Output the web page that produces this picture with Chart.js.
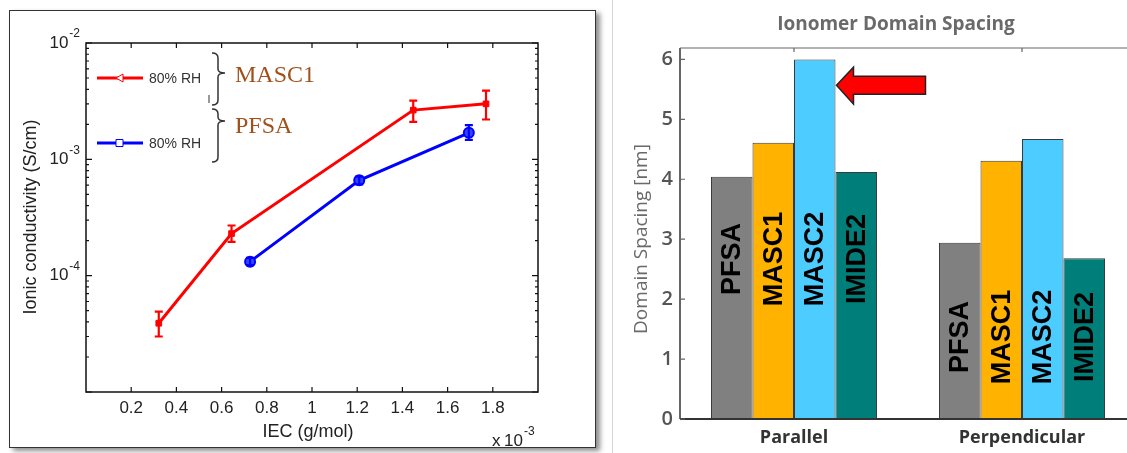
<!DOCTYPE html>
<html>
<head>
<meta charset="utf-8">
<script src="https://cdn.jsdelivr.net/npm/chart.js@4"></script>
<style>
  html, body { margin: 0; padding: 0; background: #fff; }
  #page { position: relative; width: 1127px; height: 453px; overflow: hidden; background: #fff; }
  #frame { position: absolute; left: 9px; top: 10px; width: 585px; height: 436px;
           border: 1.5px solid #333; box-shadow: 4px 3px 5px rgba(0,0,0,0.45); background: #fff; }
  #sep { position: absolute; left: 612px; top: 0; width: 1px; height: 453px; background: #d4d4d4; }
  #leftBox { position: absolute; left: 0; top: 0; width: 600px; height: 453px; }
  #rightBox { position: absolute; left: 612px; top: 0; width: 530px; height: 453px; }
</style>
</head>
<body>
<div id="page">
  <div id="frame"></div>
  <div id="sep"></div>
  <div id="leftBox"><canvas id="condChart"></canvas></div>
  <div id="rightBox"><canvas id="spacingChart"></canvas></div>
</div>
<script>
// ---- left chart data: ionic conductivity vs IEC (x 10^-3) ----
const iecMasc1 = [0.322, 0.644, 1.448, 1.77];
const sigmaMasc1 = [3.9e-5, 2.3e-4, 2.65e-3, 3.0e-3];
const errLoMasc1 = [3.0e-5, 1.95e-4, 2.1e-3, 2.2e-3];
const errHiMasc1 = [4.9e-5, 2.7e-4, 3.2e-3, 3.9e-3];

const iecPfsa = [0.726, 1.209, 1.694];
const sigmaPfsa = [1.32e-4, 6.6e-4, 1.69e-3];
const errLoPfsa = [1.23e-4, 6.1e-4, 1.47e-3];
const errHiPfsa = [1.42e-4, 7.1e-4, 1.97e-3];

const xTicks = [0.2, 0.4, 0.6, 0.8, 1, 1.2, 1.4, 1.6, 1.8];
const yDecades = [-5, -4, -3, -2];
const legendLabels = ['80% RH', '80% RH'];
const groupNames = ['MASC1', 'PFSA'];

// ---- right chart data: ionomer domain spacing ----
const orientations = ['Parallel', 'Perpendicular'];
const materials = ['PFSA', 'MASC1', 'MASC2', 'IMIDE2'];
const spacingParallel = [4.04, 4.61, 6.0, 4.12];
const spacingPerpendicular = [2.94, 4.31, 4.67, 2.68];
const spacingTicks = [0, 1, 2, 3, 4, 5, 6];
const barColors = ['#808080', '#FFB300', '#4DCCFF', '#007F7A'];

const sans = '"Liberation Sans", Arial, sans-serif';
const myriad = '"Open Sans", "Noto Sans", sans-serif';

function toPoints(xs, ys) {
  return xs.map((x, i) => ({ x: x, y: ys[i] }));
}

// draws "10" with a superscript exponent
function drawPow(ctx, x, y, exp, align) {
  const base = '10';
  ctx.font = '12px ' + sans;
  const ew = ctx.measureText(exp).width;
  ctx.font = '17px ' + sans;
  const bw = ctx.measureText(base).width;
  let start = x;
  if (align === 'right') start = x - bw - ew;
  ctx.textAlign = 'left';
  ctx.textBaseline = 'middle';
  ctx.fillText(base, start, y);
  ctx.font = '12px ' + sans;
  ctx.fillText(exp, start + bw + 1, y - 9);
}

const condPlugin = {
  id: 'condPlugin',
  afterDatasetsDraw(chart) {
    const ctx = chart.ctx;
    const xs = chart.scales.x, ys = chart.scales.y;
    const a = chart.chartArea;
    ctx.save();

    // error bars
    const errSets = [
      { xs: iecMasc1, lo: errLoMasc1, hi: errHiMasc1, color: '#ff0000' },
      { xs: iecPfsa, lo: errLoPfsa, hi: errHiPfsa, color: '#0000ff' }
    ];
    errSets.forEach(s => {
      ctx.strokeStyle = s.color;
      ctx.lineWidth = 2.2;
      s.xs.forEach((v, i) => {
        const px = xs.getPixelForValue(v);
        const y1 = ys.getPixelForValue(s.lo[i]);
        const y2 = ys.getPixelForValue(s.hi[i]);
        ctx.beginPath();
        ctx.moveTo(px, y1); ctx.lineTo(px, y2);
        ctx.moveTo(px - 4, y1); ctx.lineTo(px + 4, y1);
        ctx.moveTo(px - 4, y2); ctx.lineTo(px + 4, y2);
        ctx.stroke();
      });
    });

    // box
    ctx.strokeStyle = '#111';
    ctx.lineWidth = 1.5;
    ctx.strokeRect(a.left, a.top, a.right - a.left, a.bottom - a.top);

    // inward ticks
    ctx.lineWidth = 1.2;
    ctx.beginPath();
    xTicks.forEach(v => {
      const px = xs.getPixelForValue(v);
      ctx.moveTo(px, a.bottom); ctx.lineTo(px, a.bottom - 5);
      ctx.moveTo(px, a.top); ctx.lineTo(px, a.top + 5);
    });
    yDecades.forEach((d, k) => {
      const py = ys.getPixelForValue(Math.pow(10, d));
      ctx.moveTo(a.left, py); ctx.lineTo(a.left + 6, py);
      ctx.moveTo(a.right, py); ctx.lineTo(a.right - 6, py);
      if (k < yDecades.length - 1) {
        for (let m = 2; m < 10; m++) {
          const pm = ys.getPixelForValue(m * Math.pow(10, d));
          ctx.moveTo(a.left, pm); ctx.lineTo(a.left + 3, pm);
          ctx.moveTo(a.right, pm); ctx.lineTo(a.right - 3, pm);
        }
      }
    });
    ctx.stroke();

    // tick labels
    ctx.fillStyle = '#222';
    ctx.font = '17px ' + sans;
    ctx.textAlign = 'center';
    ctx.textBaseline = 'middle';
    xTicks.forEach(v => {
      ctx.fillText(String(v), xs.getPixelForValue(v), a.bottom + 16);
    });
    yDecades.slice(1).forEach(d => {
      drawPow(ctx, 79, ys.getPixelForValue(Math.pow(10, d)), String(d), 'right');
    });

    // axis titles
    ctx.font = '18px ' + sans;
    ctx.textAlign = 'center';
    ctx.fillText('IEC (g/mol)', 308, 432);
    ctx.save();
    ctx.translate(31, 217);
    ctx.rotate(-Math.PI / 2);
    ctx.fillText('Ionic conductivity (S/cm)', 0, 0);
    ctx.restore();
    ctx.font = '17px ' + sans;
    ctx.textAlign = 'left';
    ctx.fillText('x', 492, 441);
    drawPow(ctx, 504, 441, '-3', 'left');

    // legend
    const rows = [
      { y: 78, color: '#ff0000', shape: 'tri' },
      { y: 143, color: '#0000ff', shape: 'sq' }
    ];
    rows.forEach((r, i) => {
      ctx.strokeStyle = r.color;
      ctx.lineWidth = 2.8;
      ctx.beginPath();
      ctx.moveTo(97, r.y); ctx.lineTo(143, r.y);
      ctx.stroke();
      ctx.lineWidth = 1;
      ctx.fillStyle = '#fff';
      ctx.beginPath();
      if (r.shape === 'tri') {
        ctx.moveTo(116, r.y); ctx.lineTo(123, r.y - 4); ctx.lineTo(123, r.y + 4); ctx.closePath();
      } else {
        ctx.rect(116, r.y - 3.5, 7, 7);
      }
      ctx.fill(); ctx.stroke();
      ctx.fillStyle = '#333';
      ctx.font = '14px ' + sans;
      ctx.textAlign = 'left';
      ctx.textBaseline = 'middle';
      ctx.fillText(legendLabels[i], 149, r.y + 1);
    });

    // braces
    ctx.strokeStyle = '#333';
    ctx.lineWidth = 1.5;
    [[53, 73, 105], [109, 121, 162]].forEach(b => {
      const [t, m, btm] = b;
      ctx.beginPath();
      ctx.moveTo(212, t);
      ctx.quadraticCurveTo(218, t, 218, t + 5);
      ctx.lineTo(218, m - 4);
      ctx.quadraticCurveTo(218, m, 225, m);
      ctx.quadraticCurveTo(218, m, 218, m + 4);
      ctx.lineTo(218, btm - 5);
      ctx.quadraticCurveTo(218, btm, 212, btm);
      ctx.stroke();
    });
    ctx.lineWidth = 1;
    ctx.beginPath();
    ctx.moveTo(209, 95); ctx.lineTo(209, 103);
    ctx.stroke();

    ctx.fillStyle = '#A0501A';
    ctx.font = '24px "Liberation Serif", "Times New Roman", serif';
    ctx.textAlign = 'left';
    ctx.textBaseline = 'alphabetic';
    ctx.fillText(groupNames[0], 235, 82);
    ctx.fillText(groupNames[1], 235, 133);

    ctx.restore();
  }
};

new Chart(document.getElementById('condChart'), {
  type: 'scatter',
  data: {
    datasets: [
      {
        label: 'MASC1 80% RH',
        data: toPoints(iecMasc1, sigmaMasc1),
        showLine: true,
        borderColor: '#ff0000',
        backgroundColor: '#ff0000',
        borderWidth: 3,
        pointStyle: 'rect',
        pointRadius: 4,
        pointBorderWidth: 1
      },
      {
        label: 'PFSA 80% RH',
        data: toPoints(iecPfsa, sigmaPfsa),
        showLine: true,
        borderColor: '#0000ff',
        backgroundColor: '#3344ff',
        borderWidth: 3,
        pointStyle: 'circle',
        pointRadius: 5,
        pointBorderWidth: 2
      }
    ]
  },
  options: {
    responsive: true,
    maintainAspectRatio: false,
    animation: false,
    layout: { padding: { left: 86, top: 43, right: 62, bottom: 61 } },
    plugins: { legend: { display: false }, tooltip: { enabled: false } },
    scales: {
      x: { type: 'linear', min: 0, max: 2, display: false },
      y: { type: 'logarithmic', min: 1e-5, max: 1e-2, display: false }
    }
  },
  plugins: [condPlugin]
});

// ---- right chart ----
const labelLevels = [2.67, 1.37];

const spacingPlugin = {
  id: 'spacingPlugin',
  afterDatasetsDraw(chart) {
    const ctx = chart.ctx;
    const xs = chart.scales.x, ys = chart.scales.y;
    const a = chart.chartArea;
    ctx.save();

    // labels inside bars
    ctx.fillStyle = '#000';
    ctx.font = 'bold 27px ' + sans;
    ctx.textAlign = 'center';
    ctx.textBaseline = 'middle';
    chart.data.datasets.forEach((ds, di) => {
      chart.getDatasetMeta(di).data.forEach((bar, ci) => {
        ctx.save();
        ctx.translate(bar.x, ys.getPixelForValue(labelLevels[ci]));
        ctx.rotate(-Math.PI / 2);
        ctx.fillText(ds.label, 0, 1);
        ctx.restore();
      });
    });

    // axes
    ctx.strokeStyle = '#999';
    ctx.lineWidth = 1.5;
    ctx.beginPath();
    ctx.moveTo(a.left, a.top); ctx.lineTo(a.right, a.top);
    ctx.stroke();
    ctx.strokeStyle = '#666';
    ctx.lineWidth = 2;
    ctx.beginPath();
    ctx.moveTo(a.left, a.top); ctx.lineTo(a.left, a.bottom);
    ctx.stroke();
    ctx.strokeStyle = '#333';
    ctx.beginPath();
    ctx.moveTo(a.left, a.bottom); ctx.lineTo(a.right, a.bottom);
    ctx.stroke();

    ctx.strokeStyle = '#666';
    ctx.lineWidth = 1.2;
    ctx.beginPath();
    spacingTicks.forEach(v => {
      const py = ys.getPixelForValue(v);
      ctx.moveTo(a.left, py); ctx.lineTo(a.left + 5, py);
    });
    orientations.forEach((o, i) => {
      const px = xs.getPixelForValue(i);
      ctx.moveTo(px, a.top); ctx.lineTo(px, a.top + 4);
    });
    ctx.stroke();

    // tick labels
    ctx.fillStyle = '#555';
    ctx.font = '600 20px ' + myriad;
    ctx.textAlign = 'right';
    spacingTicks.forEach(v => {
      ctx.fillText(String(v), a.left - 7, ys.getPixelForValue(v));
    });
    ctx.fillStyle = '#333';
    ctx.font = 'bold 18px ' + myriad;
    ctx.textAlign = 'center';
    orientations.forEach((o, i) => {
      ctx.fillText(o, xs.getPixelForValue(i), a.bottom + 19);
    });

    // titles
    ctx.fillStyle = '#6a6a6a';
    ctx.font = '19px ' + myriad;
    ctx.save();
    ctx.translate(30, 239);
    ctx.rotate(-Math.PI / 2);
    ctx.fillText('Domain Spacing [nm]', 0, 0);
    ctx.restore();
    ctx.font = 'bold 19px ' + myriad;
    ctx.fillText('Ionomer Domain Spacing', 284, 25);

    // arrow pointing at the tallest bar
    const tall = chart.getDatasetMeta(2).data[0];
    const tipX = tall.x + tall.width / 2 + 1;
    const tipY = ys.getPixelForValue(5.57);
    ctx.fillStyle = '#ff0000';
    ctx.strokeStyle = '#222';
    ctx.lineWidth = 1.5;
    ctx.beginPath();
    ctx.moveTo(tipX, tipY);
    ctx.lineTo(tipX + 17, tipY - 18);
    ctx.lineTo(tipX + 17, tipY - 9);
    ctx.lineTo(tipX + 89, tipY - 9);
    ctx.lineTo(tipX + 89, tipY + 9);
    ctx.lineTo(tipX + 17, tipY + 9);
    ctx.lineTo(tipX + 17, tipY + 19);
    ctx.closePath();
    ctx.fill();
    ctx.stroke();

    ctx.restore();
  }
};

new Chart(document.getElementById('spacingChart'), {
  type: 'bar',
  data: {
    labels: orientations,
    datasets: materials.map((m, i) => ({
      label: m,
      data: [spacingParallel[i], spacingPerpendicular[i]],
      backgroundColor: barColors[i],
      borderColor: '#3a3a3a',
      borderWidth: 1,
      categoryPercentage: 0.728,
      barPercentage: 1.0
    }))
  },
  options: {
    responsive: true,
    maintainAspectRatio: false,
    animation: false,
    layout: { padding: { left: 68, top: 48, right: 6, bottom: 34 } },
    plugins: { legend: { display: false }, tooltip: { enabled: false } },
    scales: {
      x: { type: 'category', display: false, offset: true },
      y: { type: 'linear', min: 0, max: 6.19, display: false }
    }
  },
  plugins: [spacingPlugin]
});
</script>
</body>
</html>
